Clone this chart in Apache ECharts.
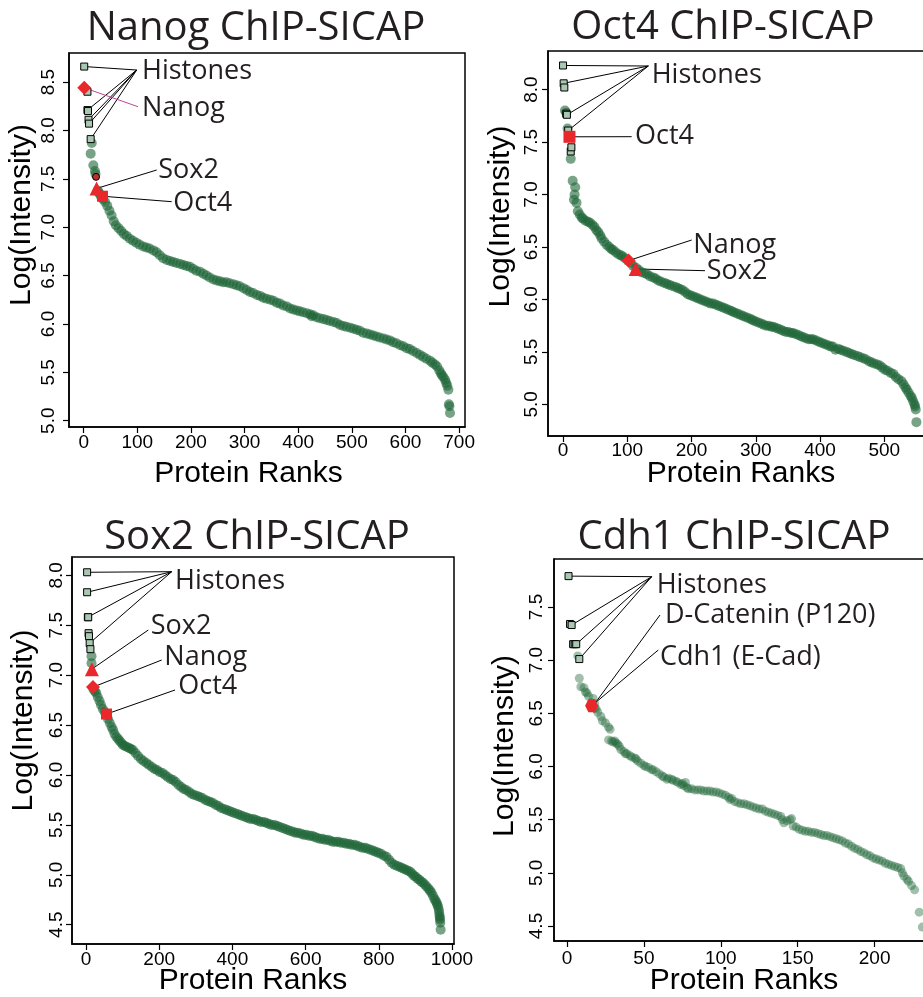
<!DOCTYPE html>
<html>
<head>
<meta charset="utf-8">
<script src="https://cdn.jsdelivr.net/npm/echarts@6.0.0/dist/echarts.min.js"></script>
<style>
html, body { margin: 0; padding: 0; background: #fff; }
#chart { width: 923px; height: 997px; }
</style>
</head>
<body>
<div id="chart"></div>
<script>
// ---- data: [rank, log intensity] ----
const nanogProteins = [
  [13,7.76],[15,7.87],[18,7.64],[21,7.58],[22,7.55],[26,7.38],[28,7.36],[30,7.34],[33,7.31],[36,7.29],
  [40,7.26],[44,7.22],[48,7.17],[52,7.12],[56,7.06],[60,7.02],[65,6.99],[70,6.96],[75,6.93],[80,6.91],
  [86,6.88],[92,6.86],[98,6.84],[104,6.82],[111,6.80],[117,6.79],[123,6.78],[130,6.76],[136,6.74],[142,6.71],
  [148,6.68],[155,6.66],[161,6.65],[167,6.64],[173,6.63],[180,6.62],[186,6.61],[192,6.60],[198,6.59],[204,6.57],
  [210,6.55],[217,6.54],[223,6.52],[229,6.50],[235,6.48],[242,6.46],[248,6.45],[254,6.44],[260,6.43],[266,6.43],
  [272,6.42],[279,6.41],[285,6.40],[291,6.39],[298,6.37],[304,6.35],[310,6.33],[316,6.32],[323,6.30],[329,6.29],
  [335,6.27],[341,6.26],[348,6.25],[354,6.24],[360,6.22],[366,6.21],[372,6.19],[379,6.18],[385,6.16],[391,6.15],
  [397,6.14],[403,6.13],[409,6.12],[416,6.11],[422,6.10],[425,6.08],[428,6.09],[434,6.07],[440,6.06],[447,6.05],
  [453,6.04],[459,6.03],[466,6.02],[472,6.01],[478,5.99],[484,5.98],[490,5.97],[497,5.96],[503,5.95],[509,5.94],
  [515,5.93],[521,5.91],[528,5.90],[534,5.89],[540,5.88],[546,5.87],[552,5.86],[559,5.85],[565,5.84],[571,5.83],
  [577,5.81],[583,5.80],[590,5.78],[596,5.77],[602,5.75],[608,5.74],[614,5.72],[621,5.70],[627,5.68],[633,5.66],
  [639,5.64],[646,5.62],[650,5.60],[655,5.58],[659,5.56],[663,5.52],[666,5.49],[668,5.47],[671,5.45],[674,5.42],
  [676,5.39],[678,5.36],[680,5.32],[681,5.17],[682,5.15],[683,5.08]
];
const nanogHistones = [[1,8.66],[7,8.40],[7,8.21],[8,8.20],[9,8.11],[10,8.07],[13,7.91]];
const nanogNanog = [[1,8.44]];
const nanogSox2 = [[24,7.40]];
const nanogSox2Alt = [[23,7.52]];
const nanogOct4 = [[35,7.32]];
const nanogXTicks = [0,100,200,300,400,500,600,700];
const nanogYTicks = [5.0,5.5,6.0,6.5,7.0,7.5,8.0,8.5];

const oct4Proteins = [
  [3,7.80],[5,7.78],[7,7.63],[12,7.34],[15,7.13],[17,6.95],[18,7.00],[19,7.07],[21,6.92],[23,6.84],
  [26,6.81],[29,6.78],[31,6.77],[35,6.75],[39,6.74],[42,6.73],[46,6.71],[49,6.69],[52,6.66],[55,6.64],
  [58,6.61],[60,6.58],[64,6.55],[68,6.52],[72,6.50],[75,6.48],[78,6.47],[82,6.45],[86,6.43],[90,6.42],
  [93,6.41],[97,6.39],[101,6.37],[105,6.35],[109,6.32],[114,6.30],[118,6.28],[122,6.26],[127,6.25],[131,6.24],
  [135,6.22],[140,6.21],[144,6.20],[148,6.18],[152,6.17],[157,6.16],[161,6.15],[165,6.14],[169,6.13],[174,6.12],
  [178,6.11],[182,6.10],[186,6.09],[190,6.07],[194,6.05],[198,6.04],[202,6.03],[206,6.02],[210,6.01],[214,6.00],
  [218,5.99],[222,5.98],[226,5.97],[230,5.96],[234,5.96],[238,5.95],[242,5.94],[246,5.93],[250,5.92],[254,5.91],
  [258,5.90],[262,5.89],[265,5.88],[269,5.87],[273,5.86],[277,5.85],[281,5.84],[285,5.83],[289,5.82],[293,5.81],
  [296,5.80],[300,5.79],[304,5.78],[308,5.77],[312,5.76],[316,5.75],[320,5.75],[324,5.74],[327,5.74],[331,5.73],
  [335,5.72],[339,5.71],[343,5.70],[347,5.69],[351,5.69],[355,5.68],[358,5.68],[362,5.67],[366,5.66],[370,5.65],
  [374,5.64],[378,5.63],[382,5.62],[386,5.62],[389,5.62],[393,5.61],[397,5.60],[401,5.59],[405,5.58],[409,5.57],
  [413,5.56],[417,5.55],[420,5.55],[424,5.52],[428,5.53],[432,5.52],[436,5.51],[441,5.50],[445,5.49],[449,5.48],
  [453,5.47],[458,5.46],[462,5.45],[467,5.44],[471,5.43],[476,5.41],[480,5.40],[484,5.39],[489,5.38],[493,5.37],
  [497,5.35],[501,5.33],[505,5.32],[510,5.30],[514,5.29],[518,5.26],[522,5.24],[527,5.22],[530,5.19],[533,5.16],
  [535,5.14],[538,5.11],[541,5.08],[543,5.06],[545,5.03],[547,5.00],[548,4.98],[549,4.95],[550,4.83]
];
const oct4Histones = [[0,8.23],[1,8.06],[2,8.02],[5,7.77],[6,7.76],[8,7.61],[12,7.41],[13,7.45]];
const oct4Oct4 = [[10,7.55]];
const oct4Nanog = [[102,6.37]];
const oct4Sox2 = [[113,6.29]];
const oct4XTicks = [0,100,200,300,400,500];
const oct4YTicks = [5.0,5.5,6.0,6.5,7.0,7.5,8.0];

const sox2Proteins = [
  [15,7.19],[15,7.12],[20,6.86],[24,6.84],[28,6.82],[32,6.78],[37,6.74],[41,6.70],[46,6.66],[51,6.63],
  [56,6.60],[60,6.56],[65,6.52],[70,6.48],[74,6.45],[78,6.41],[83,6.38],[88,6.36],[92,6.34],[97,6.32],
  [101,6.30],[106,6.29],[112,6.28],[118,6.27],[123,6.26],[128,6.25],[135,6.22],[142,6.19],[150,6.16],[157,6.14],
  [165,6.12],[172,6.10],[180,6.08],[187,6.06],[194,6.05],[201,6.03],[209,6.02],[216,6.00],[223,5.98],[231,5.96],
  [238,5.95],[245,5.93],[253,5.90],[260,5.88],[267,5.86],[274,5.85],[282,5.83],[289,5.81],[296,5.80],[304,5.79],
  [311,5.78],[318,5.77],[326,5.75],[333,5.74],[340,5.73],[347,5.72],[355,5.70],[362,5.69],[369,5.67],[377,5.66],
  [384,5.65],[391,5.64],[398,5.63],[405,5.62],[413,5.61],[420,5.60],[427,5.59],[435,5.58],[442,5.57],[449,5.56],
  [457,5.56],[464,5.55],[471,5.54],[478,5.53],[486,5.53],[493,5.52],[500,5.51],[507,5.50],[515,5.50],[522,5.49],
  [529,5.48],[537,5.47],[544,5.46],[551,5.45],[558,5.44],[566,5.43],[573,5.42],[580,5.42],[588,5.41],[595,5.40],
  [602,5.40],[610,5.39],[617,5.39],[624,5.38],[631,5.37],[639,5.36],[646,5.36],[653,5.35],[661,5.35],[668,5.34],
  [675,5.33],[683,5.33],[690,5.33],[697,5.32],[705,5.32],[712,5.31],[719,5.31],[726,5.30],[734,5.30],[741,5.29],
  [748,5.28],[756,5.27],[763,5.27],[770,5.26],[778,5.25],[785,5.24],[792,5.23],[799,5.22],[806,5.21],[814,5.19],
  [821,5.18],[828,5.15],[835,5.12],[842,5.10],[849,5.09],[856,5.08],[862,5.07],[868,5.06],[874,5.05],[880,5.04],
  [886,5.03],[891,5.01],[896,4.99],[901,4.98],[906,4.96],[911,4.95],[916,4.93],[921,4.92],[926,4.90],[931,4.88],
  [936,4.86],[940,4.84],[944,4.82],[948,4.79],[952,4.76],[955,4.74],[958,4.72],[960,4.70],[962,4.68],[964,4.65],
  [965,4.62],[966,4.59],[967,4.57],[967,4.55],[968,4.52],[969,4.45]
];
const sox2Histones = [[3,8.03],[3,7.83],[5,7.58],[6,7.58],[7,7.42],[8,7.39],[10,7.32],[12,7.26]];
const sox2Sox2 = [[16,7.06]];
const sox2Nanog = [[19,6.88]];
const sox2Oct4 = [[56,6.61]];
const sox2XTicks = [0,200,400,600,800,1000];
const sox2YTicks = [4.5,5.0,5.5,6.0,6.5,7.0,7.5,8.0];

const cdh1Proteins = [
  [7,7.04],[8,6.83],[9,6.75],[11,6.74],[12,6.70],[13,6.69],[14,6.66],[17,6.64],[16,6.60],[18,6.55],
  [19,6.54],[20,6.51],[22,6.47],[23,6.43],[25,6.41],[27,6.37],[28,6.35],[27,6.25],[29,6.24],[30,6.23],
  [31,6.24],[32,6.22],[33,6.21],[34,6.19],[35,6.16],[37,6.14],[38,6.12],[39,6.12],[41,6.10],[42,6.09],
  [44,6.08],[45,6.07],[46,6.05],[48,6.03],[50,6.01],[51,6.00],[53,5.99],[55,5.97],[56,5.97],[58,5.95],
  [60,5.93],[62,5.91],[63,5.90],[65,5.88],[66,5.89],[68,5.88],[69,5.87],[71,5.86],[72,5.85],[74,5.83],
  [75,5.84],[76,5.82],[77,5.85],[78,5.80],[79,5.79],[81,5.79],[83,5.78],[85,5.78],[87,5.78],[89,5.77],
  [91,5.77],[93,5.77],[95,5.76],[97,5.76],[99,5.75],[101,5.74],[103,5.73],[105,5.71],[106,5.69],[107,5.70],
  [109,5.67],[111,5.66],[113,5.65],[115,5.65],[117,5.64],[119,5.63],[121,5.62],[123,5.61],[125,5.60],[127,5.60],
  [129,5.58],[131,5.57],[133,5.56],[135,5.55],[137,5.54],[139,5.53],[140,5.50],[141,5.47],[143,5.49],[145,5.50],
  [146,5.51],[147,5.44],[149,5.43],[151,5.41],[153,5.40],[155,5.39],[157,5.39],[159,5.38],[161,5.38],[163,5.37],
  [165,5.36],[167,5.35],[169,5.35],[171,5.34],[173,5.33],[175,5.32],[177,5.31],[179,5.30],[181,5.28],[183,5.27],
  [185,5.25],[187,5.23],[189,5.22],[191,5.20],[193,5.19],[195,5.17],[197,5.16],[199,5.14],[201,5.13],[203,5.12],
  [205,5.11],[207,5.09],[209,5.08],[211,5.07],[213,5.06],[215,5.05],[217,5.04],[218,5.00],[219,4.97],[221,4.94],
  [222,4.92],[224,4.88],[226,4.84],[229,4.63],[231,4.49]
];
const cdh1Histones = [[1,7.79],[2,7.34],[3,7.33],[4,7.15],[5,7.15],[6,7.15],[8,7.01]];
const cdh1Catenin = [[18,6.59]];
const cdh1Cdh1 = [[16,6.57]];
const cdh1XTicks = [0,50,100,150,200];
const cdh1YTicks = [4.5,5.0,5.5,6.0,6.5,7.0,7.5];

// ---- layout ----
const GREEN = '#1e6637';
const RED = '#e8282b';
const INK = '#231f20';
const AXIS_FONT = 'Liberation Sans';
const LABEL_FONT = 'Open Sans';

const panels = [
  { title: 'Nanog ChIP-SICAP', titleX: 256, titleY: 9,
    grid: { left: 69, top: 53, width: 396, height: 374 },
    xMin: -27.4, xMax: 711, yMin: 4.935, yMax: 8.80,
    xTicks: nanogXTicks, yTicks: nanogYTicks,
    xNameGap: 32, xNamePad: 37, yNameGap: 32, yNamePad: 50, xLabelMargin: 6, yLabelMargin: 11 },
  { title: 'Oct4 ChIP-SICAP', titleX: 723, titleY: 8,
    grid: { left: 548, top: 51, width: 386, height: 385 },
    xMin: -23.4, xMax: 577.4, yMin: 4.698, yMax: 8.368,
    xTicks: oct4XTicks, yTicks: oct4YTicks,
    xNameGap: 23, xNamePad: 0, yNameGap: 32, yNamePad: 54, xLabelMargin: 5, yLabelMargin: 7 },
  { title: 'Sox2 ChIP-SICAP', titleX: 257, titleY: 518,
    grid: { left: 72, top: 557, width: 382, height: 387 },
    xMin: -38.3, xMax: 1005.5, yMin: 4.307, yMax: 8.183,
    xTicks: sox2XTicks, yTicks: sox2YTicks,
    xNameGap: 22, xNamePad: 20, yNameGap: 33, yNamePad: 60, xLabelMargin: 6, yLabelMargin: 6 },
  { title: 'Cdh1 ChIP-SICAP', titleX: 734, titleY: 518,
    grid: { left: 554, top: 559, width: 380, height: 382 },
    xMin: -8.45, xMax: 238.6, yMin: 4.359, yMax: 7.951,
    xTicks: cdh1XTicks, yTicks: cdh1YTicks,
    xNameGap: 25, xNamePad: 0, yNameGap: 34, yNamePad: 8, xLabelMargin: 8, yLabelMargin: 8 }
];

const hexagon = 'path://M-1,0 L-0.5,-0.87 L0.5,-0.87 L1,0 L0.5,0.87 L-0.5,0.87 Z';

// series per panel: [panel, data, symbol, size, fill, border, opacity]
const marks = [
  [0, nanogProteins, 'circle', 10, GREEN, null, 0.6],
  [0, nanogHistones, 'rect', 7, '#a9c8b2', '#000', 1],
  [0, nanogSox2Alt, 'circle', 7, '#b83232', '#000', 1],
  [0, nanogNanog, 'diamond', 14, RED, null, 1],
  [0, nanogSox2, 'triangle', 14, RED, null, 1],
  [0, nanogOct4, 'rect', 11, RED, null, 1],
  [1, oct4Proteins, 'circle', 10, GREEN, null, 0.6],
  [1, oct4Histones, 'rect', 7, '#a9c8b2', '#000', 1],
  [1, oct4Oct4, 'rect', 12, RED, null, 1],
  [1, oct4Nanog, 'diamond', 14, RED, null, 1],
  [1, oct4Sox2, 'triangle', 14, RED, null, 1],
  [2, sox2Proteins, 'circle', 10, GREEN, null, 0.6],
  [2, sox2Histones, 'rect', 7, '#a9c8b2', '#000', 1],
  [2, sox2Sox2, 'triangle', 14, RED, null, 1],
  [2, sox2Nanog, 'diamond', 14, RED, null, 1],
  [2, sox2Oct4, 'rect', 11, RED, null, 1],
  [3, cdh1Proteins, 'circle', 9, GREEN, null, 0.42],
  [3, cdh1Catenin, 'circle', 9, GREEN, null, 0.42],
  [3, cdh1Histones, 'rect', 7, '#a9c8b2', '#000', 1],
  [3, cdh1Cdh1, hexagon, 13, RED, null, 1]
];

// annotation labels: text position and the point where the leader lines meet
const notes = [
  { p: 0, text: 'Histones', at: [142, 71], hub: [136.7, 70], from: [0, 2, 4, 5, 6].map(i => nanogHistones[i]) },
  { p: 0, text: 'Nanog', at: [142, 108], hub: [138, 106.7], from: nanogNanog, color: '#c2449a' },
  { p: 0, text: 'Sox2', at: [158.3, 170], hub: [156.7, 170], from: nanogSox2 },
  { p: 0, text: 'Oct4', at: [173.3, 203], hub: [171.7, 201.7], from: nanogOct4 },
  { p: 1, text: 'Histones', at: [651.7, 75], hub: [648.3, 66], from: [0, 1, 4, 5].map(i => oct4Histones[i]) },
  { p: 1, text: 'Oct4', at: [635, 136.7], hub: [631.7, 136.7], from: oct4Oct4 },
  { p: 1, text: 'Nanog', at: [693.3, 245], hub: [691.7, 240], from: oct4Nanog },
  { p: 1, text: 'Sox2', at: [706.7, 271.7], hub: [705, 270.7], from: oct4Sox2 },
  { p: 2, text: 'Histones', at: [175, 581.7], hub: [171.7, 571.7], from: [0, 1, 2, 6].map(i => sox2Histones[i]) },
  { p: 2, text: 'Sox2', at: [150.7, 626], hub: [148.3, 630], from: sox2Sox2 },
  { p: 2, text: 'Nanog', at: [164.3, 657.3], hub: [161.7, 660], from: sox2Nanog },
  { p: 2, text: 'Oct4', at: [178.3, 686.7], hub: [175, 690], from: sox2Oct4 },
  { p: 3, text: 'Histones', at: [656.7, 585], hub: [651.7, 576.7], from: [0, 2, 5, 6].map(i => cdh1Histones[i]) },
  { p: 3, text: 'D-Catenin (P120)', at: [665, 615], hub: [660, 615], from: cdh1Catenin },
  { p: 3, text: 'Cdh1 (E-Cad)', at: [660, 657.3], hub: [658.3, 650], from: cdh1Cdh1 }
];

const chart = echarts.init(document.getElementById('chart'));

const axisText = { fontFamily: AXIS_FONT, fontSize: 19, color: '#000' };
const nameText = { fontFamily: AXIS_FONT, fontSize: 30, color: '#000' };

const option = {
  animation: false,
  backgroundColor: '#fff',
  title: panels.map(p => ({
    text: p.title, left: p.titleX, top: p.titleY, textAlign: 'center', padding: 0,
    textStyle: { fontFamily: LABEL_FONT, fontSize: 40, fontWeight: 'normal', color: INK }
  })),
  grid: panels.map(p => Object.assign({
    show: true, borderColor: '#000', borderWidth: 1.5, backgroundColor: 'transparent',
    containLabel: false, outerBoundsMode: 'none'
  }, p.grid)),
  xAxis: panels.map((p, i) => ({
    gridIndex: i, type: 'value', min: p.xMin, max: p.xMax,
    name: 'Protein Ranks', nameLocation: 'middle', nameGap: p.xNameGap, nameMoveOverlap: false,
    nameTextStyle: Object.assign({ padding: [0, p.xNamePad, 0, 0] }, nameText),
    axisLine: { show: true, onZero: false, lineStyle: { color: '#000', width: 1.5 } },
    axisTick: { show: true, length: 6, customValues: p.xTicks, lineStyle: { color: '#000', width: 1.2 } },
    axisLabel: Object.assign({
      customValues: p.xTicks, margin: p.xLabelMargin,
      formatter: v => String(v)
    }, axisText),
    splitLine: { show: false }
  })),
  yAxis: panels.map((p, i) => ({
    gridIndex: i, type: 'value', min: p.yMin, max: p.yMax,
    name: 'Log(Intensity)', nameLocation: 'middle', nameGap: p.yNameGap, nameMoveOverlap: false,
    nameTextStyle: Object.assign({ padding: [0, 0, 0, p.yNamePad] }, nameText),
    axisLine: { show: true, onZero: false, lineStyle: { color: '#000', width: 1.5 } },
    axisTick: { show: true, length: 6, customValues: p.yTicks, lineStyle: { color: '#000', width: 1.2 } },
    axisLabel: Object.assign({
      customValues: p.yTicks, rotate: 90, margin: p.yLabelMargin,
      formatter: v => v.toFixed(1)
    }, axisText),
    splitLine: { show: false }
  })),
  series: marks.map(([i, data, symbol, size, fill, border, alpha]) => ({
    type: 'scatter', xAxisIndex: i, yAxisIndex: i, data: data,
    symbol: symbol, symbolSize: size, silent: true,
    itemStyle: border
      ? { color: fill, borderColor: border, borderWidth: 1, opacity: alpha }
      : { color: fill, opacity: alpha }
  }))
};

chart.setOption(option);

// leader lines from the data points to the label hubs, then the labels
const graphics = [];
notes.forEach(n => {
  n.from.forEach(pt => {
    const [x, y] = chart.convertToPixel({ xAxisIndex: n.p, yAxisIndex: n.p }, pt);
    graphics.push({
      type: 'line', z: 1, silent: true,
      shape: { x1: x, y1: y, x2: n.hub[0], y2: n.hub[1] },
      style: { stroke: n.color || '#000', lineWidth: 1 }
    });
  });
  graphics.push({
    type: 'text', z: 100, silent: true, x: n.at[0], y: n.at[1],
    style: { text: n.text, font: '27px "' + LABEL_FONT + '"', fill: INK, align: 'left', verticalAlign: 'middle' }
  });
});
chart.setOption({ graphic: graphics });
</script>
</body>
</html>
